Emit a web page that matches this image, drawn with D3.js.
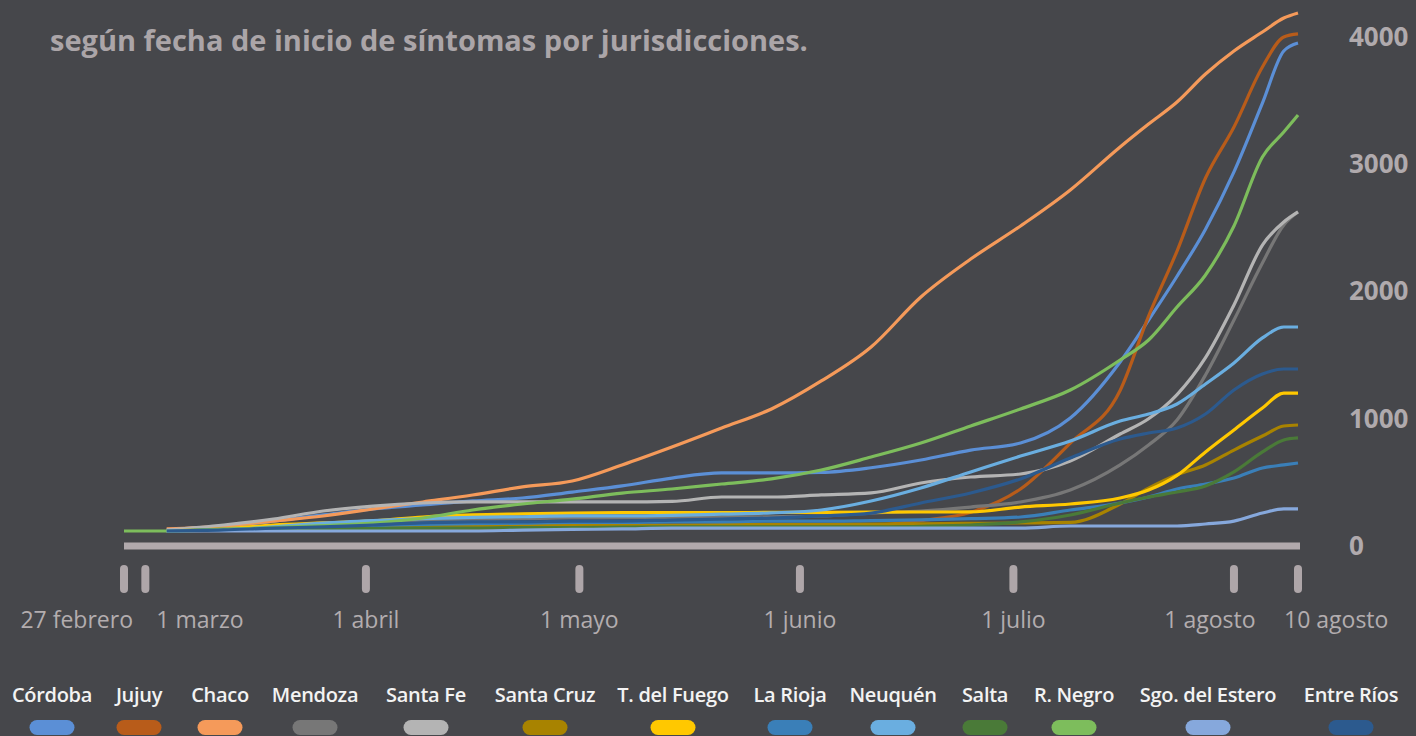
<!DOCTYPE html>
<html>
<head>
<meta charset="utf-8">
<script src="https://cdn.jsdelivr.net/npm/d3@7"></script>
<style>
  html, body { margin: 0; padding: 0; background: #46474b; }
  svg { display: block; font-family: "Open Sans", Lato, sans-serif; }
</style>
</head>
<body>
<div id="chart"></div>
<script>
// days after 27 feb 2020 for every sample
var dayOffsets = [0, 6, 14, 21, 28, 35, 42, 49, 56, 63, 70, 77, 84, 91, 98, 105, 112, 119, 126, 133, 140, 144, 148, 152, 156, 160, 163, 165];

var cordoba   = [null,120,150,196,244,291,322,354,377,424,472,534,574,574,578,615,676,754,809,1006,1446,1776,2120,2490,2940,3480,3890,3953];
var jujuy     = [null,118,125,130,135,138,140,140,140,140,140,142,145,148,150,160,200,265,448,809,1222,1807,2318,2892,3293,3764,4000,4024];
var chaco     = [null,134,157,196,236,291,346,401,464,511,637,778,927,1077,1297,1564,1957,2255,2515,2798,3136,3316,3489,3709,3890,4039,4149,4189];
var mendoza   = [null,118,134,150,170,185,195,205,215,220,222,225,228,230,236,259,275,306,346,440,637,794,990,1344,1776,2224,2523,2625];
var santaFe   = [null,126,165,212,275,314,338,346,346,346,346,350,385,385,401,417,495,542,566,668,880,1000,1190,1480,1894,2365,2546,2625];
var santaCruz = [null,118,126,134,141,150,157,160,165,165,165,165,168,170,170,172,175,178,181,185,330,455,560,637,754,864,943,951];
var tdFuego   = [null,118,134,165,181,197,228,244,252,259,262,262,262,264,265,266,267,268,306,330,377,440,555,739,912,1084,1202,1202];
var laRioja   = [null,118,130,140,150,160,170,175,180,185,185,190,190,195,195,200,205,215,228,283,338,385,448,487,534,613,637,652];
var neuquen   = [null,118,126,150,180,200,215,225,230,236,236,240,250,260,283,354,456,582,707,825,982,1037,1116,1273,1438,1635,1721,1721];
var salta     = [null,118,126,130,134,138,141,141,145,145,148,150,150,150,150,150,155,165,189,244,338,385,424,472,582,739,833,849];
var rNegro    = [118,118,130,145,160,180,220,283,330,369,416,448,487,527,597,699,809,943,1077,1226,1462,1619,1878,2130,2515,3057,3253,3387];
var sgoEstero = [null,118,118,118,118,118,118,118,125,130,134,141,141,141,141,141,141,141,141,157,157,157,157,173,196,259,291,291];
var entreRios = [null,118,126,141,150,165,181,189,189,196,196,204,212,220,236,259,338,417,527,692,841,888,927,1037,1226,1352,1391,1391];

var seriesNames = ['Córdoba', 'Jujuy', 'Chaco', 'Mendoza', 'Santa Fe', 'Santa Cruz', 'T. del Fuego', 'La Rioja', 'Neuquén', 'Salta', 'R. Negro', 'Sgo. del Estero', 'Entre Ríos'];
var seriesValues = [cordoba, jujuy, chaco, mendoza, santaFe, santaCruz, tdFuego, laRioja, neuquen, salta, rNegro, sgoEstero, entreRios];
var seriesColors = ['#5b8fd6', '#b85c1a', '#f59a5a', '#777777', '#b4b4b4', '#a88300', '#ffc800', '#3a7fb8', '#6aaee0', '#4a7a38', '#7dbd5c', '#86a8dc', '#2c5a8e'];

var tickDays = [0, 3, 34, 64, 95, 125, 156, 165];
var tickLabels = ['27 febrero', '1 marzo', '1 abril', '1 mayo', '1 junio', '1 julio', '1 agosto', '10 agosto'];
var yTicks = [0, 1000, 2000, 3000, 4000];

var titleText = 'según fecha de inicio de síntomas por jurisdicciones.';

var W = 1416, H = 736;
var start = new Date(2020, 1, 27);
function dayDate(d) { return d3.timeDay.offset(start, d); }

var svg = d3.select('#chart').append('svg').attr('width', W).attr('height', H);
svg.append('rect').attr('width', W).attr('height', H).attr('fill', '#46474b');

var x = d3.scaleTime().domain([dayDate(0), dayDate(165)]).range([124, 1298]);
var y = d3.scaleLinear().domain([0, 4000]).range([546, 37]);

// title
svg.append('text')
  .attr('x', 50).attr('y', 51)
  .attr('fill', '#aba5a8')
  .attr('font-size', 29)
  .attr('font-weight', 'bold')
  .text(titleText);

// baseline bar
svg.append('rect')
  .attr('x', x(dayDate(0))).attr('y', y(0) - 3.5)
  .attr('width', x(dayDate(165)) - x(dayDate(0)) + 2).attr('height', 7)
  .attr('fill', '#b1a9ac');

// y axis on the right
var yAxis = svg.append('g')
  .attr('transform', 'translate(1349,0)')
  .call(d3.axisRight(y).tickValues(yTicks).tickSize(0).tickPadding(0).tickFormat(d3.format('d')));
yAxis.select('.domain').remove();
yAxis.selectAll('text')
  .attr('fill', '#b0aaad')
  .attr('font-size', 26)
  .attr('font-weight', 'bold')
  .attr('font-family', '"Open Sans", sans-serif');

// x ticks
var xt = svg.append('g');
tickDays.forEach(function (d, i) {
  var px = x(dayDate(d));
  xt.append('rect')
    .attr('x', px - 4).attr('y', 565)
    .attr('width', 8).attr('height', 28).attr('rx', 4)
    .attr('fill', '#aea6a9');
  var anchor = 'middle', dx = 0;
  if (i === 0) { anchor = 'end'; dx = 9; }
  if (i === 1) { anchor = 'start'; dx = 11; }
  if (i === 6) { dx = -24; }
  if (i === tickLabels.length - 1) { anchor = 'start'; dx = -14; }
  xt.append('text')
    .attr('x', px + dx).attr('y', 628)
    .attr('text-anchor', anchor)
    .attr('fill', '#b3adaf')
    .attr('font-size', 23)
    .text(tickLabels[i]);
});

// lines
var line = d3.line()
  .defined(function (d) { return d.v !== null; })
  .x(function (d) { return x(d.date); })
  .y(function (d) { return y(d.v); })
  .curve(d3.curveMonotoneX);

var lineG = svg.append('g');
seriesValues.forEach(function (vals, i) {
  var pts = vals.map(function (v, j) { return { date: dayDate(dayOffsets[j]), v: v }; });
  lineG.append('path')
    .datum(pts)
    .attr('d', line)
    .attr('fill', 'none')
    .attr('stroke', seriesColors[i])
    .attr('stroke-width', 3.2)
    .attr('stroke-linejoin', 'round');
});

// legend
var legendX = [52, 139, 220, 315, 426, 545, 673, 790, 893, 985, 1074, 1208, 1351];
var lg = svg.append('g');
seriesNames.forEach(function (name, i) {
  lg.append('text')
    .attr('x', legendX[i]).attr('y', 702)
    .attr('text-anchor', 'middle')
    .attr('fill', '#f3f3f3')
    .attr('font-size', 20)
    .attr('font-weight', 600)
    .attr('letter-spacing', -0.3)
    .text(name);
  lg.append('rect')
    .attr('x', legendX[i] - 22.5).attr('y', 720)
    .attr('width', 45).attr('height', 15).attr('rx', 7.5)
    .attr('fill', seriesColors[i]);
});
</script>
</body>
</html>
